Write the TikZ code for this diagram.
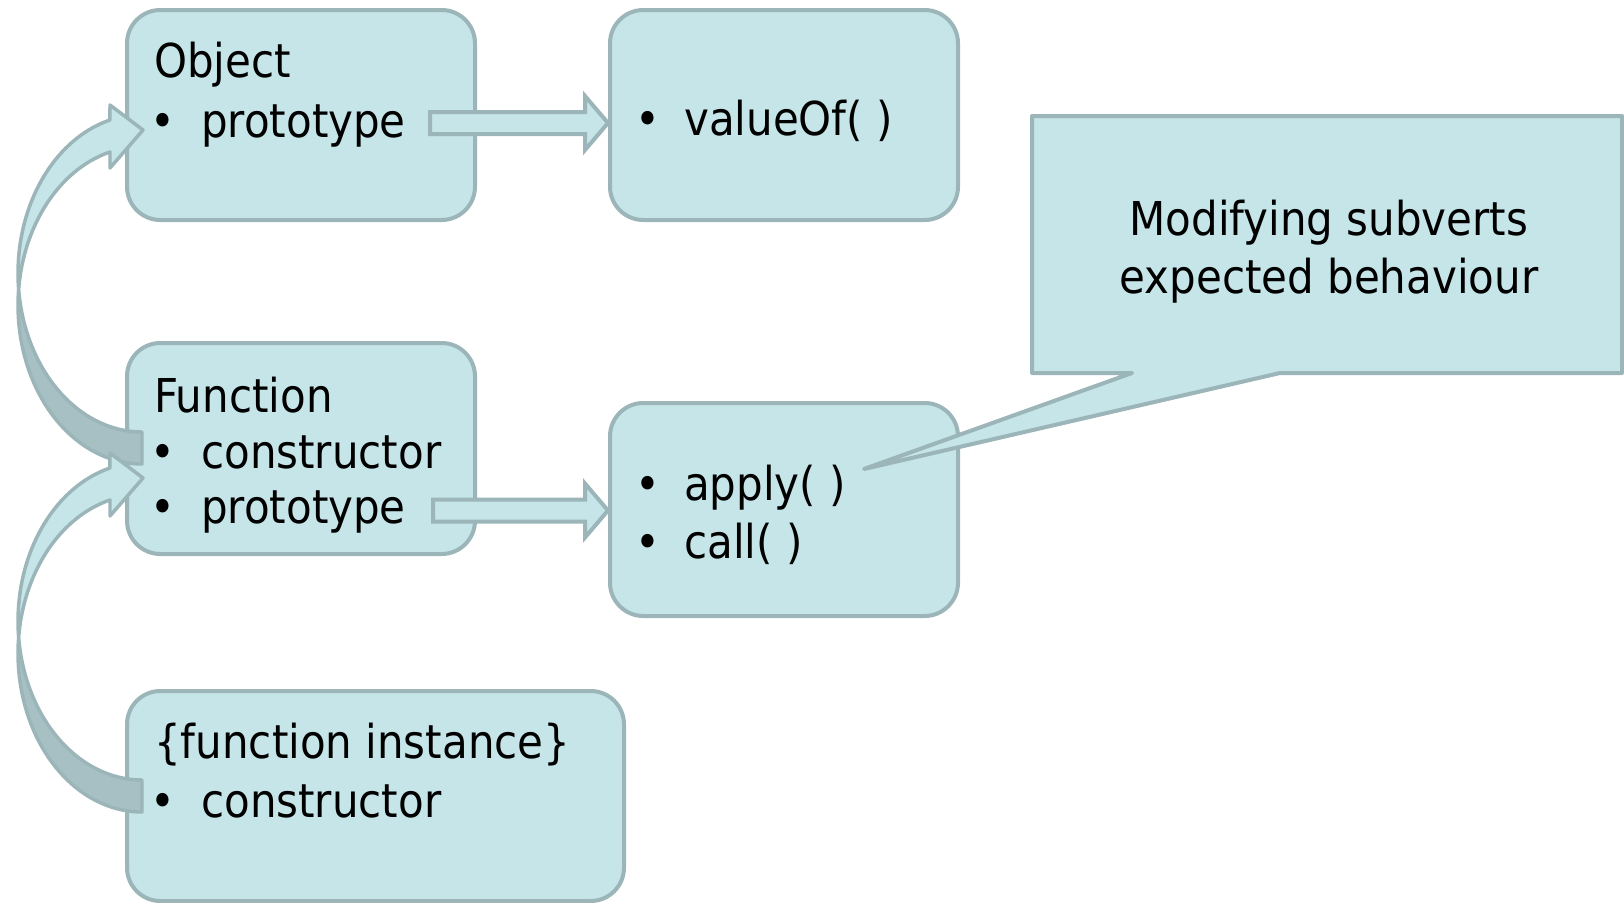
\documentclass[tikz,border=0pt]{standalone}
\usepackage{fontspec}
\setmainfont{DejaVu Sans Condensed}
\usetikzlibrary{calc}
\definecolor{boxfill}{RGB}{197,229,232}
\definecolor{boxline}{RGB}{155,181,185}
\definecolor{backfill}{RGB}{167,192,196}
\newcommand\myblockarrow[2]{\draw[blockarrow] ($(#1)+(0,-11)$) -- ($(#2)+(-23,-11)$) -- ($(#2)+(-23,-27)$) -- (#2) -- ($(#2)+(-23,27)$) -- ($(#2)+(-23,11)$) -- ($(#1)+(0,11)$) -- cycle;}
\newcommand\mycurvedarrow{%
  \draw[curveback] plot[domain=174.2:90, samples=40] ({142+124*cos(\x)},{273.3+158.7*sin(\x)}) -- (142,463)
     -- plot[domain=90:185.8, samples=40] ({142+124*cos(\x)},{305.3+158.7*sin(\x)}) -- cycle;
  \draw[curvefront] (110,152) -- plot[domain=255:185.8, samples=40] ({142+124*cos(\x)},{305.3+158.7*sin(\x)})
     -- plot[domain=174.2:255, samples=40] ({142+124*cos(\x)},{273.3+158.7*sin(\x)})
     -- (110,105) -- (143,130) -- (110,168) -- cycle;}
\begin{document}
\begin{tikzpicture}[x=0.75pt,y=-0.75pt,
  box/.style={draw=boxline, fill=boxfill, line width=3pt, rounded corners=25pt, inner sep=0pt},
  txt/.style={inner sep=0pt, font=\fontsize{35}{42}\selectfont, anchor=base west},
  bul/.style={inner sep=0pt, font=\fontsize{35}{42}\selectfont, anchor=base},
  ctxt/.style={inner sep=0pt, font=\fontsize{35}{42}\selectfont, anchor=base},
  blockarrow/.style={draw=boxline, fill=boxfill, line width=3pt, line join=miter},
  curvefront/.style={draw=boxline, fill=boxfill, line width=2.6pt, line join=round},
  curveback/.style={draw=boxline, fill=backfill, line width=2.6pt, line join=round},
  calloutbox/.style={draw=boxline, fill=boxfill, line width=3pt, line join=round}]
\useasboundingbox (0,0) rectangle (1624,903);

% boxes
\node[box, minimum width=261pt, minimum height=157.5pt] (obj) at (301,115) {};
\node[box, minimum width=261pt, minimum height=157.5pt] (val) at (784,115) {};
\node[box, minimum width=261pt, minimum height=158.25pt] (fun) at (301,448.5) {};
\node[box, minimum width=261pt, minimum height=159.75pt] (app) at (784,509.5) {};
\node[box, minimum width=372.75pt, minimum height=157.5pt] (inst) at (375.5,796) {};

% texts
\node[txt] (objT) at (154,77) {Object};
\node[bul] (objB1) at (163,137) {•};
\node[txt] (objI1) at (201,137) {prototype};

\node[bul] (valB1) at (648,135) {•};
\node[txt] (valI1) at (684,135) {valueOf( )};

\node[txt] (funT) at (154,412) {Function};
\node[bul] (funB1) at (163,468) {•};
\node[txt] (funI1) at (201,468) {constructor};
\node[bul] (funB2) at (163,523) {•};
\node[txt] (funI2) at (201,523) {prototype};

\node[bul] (appB1) at (648,500) {•};
\node[txt] (appI1) at (684,500) {apply( )};
\node[bul] (appB2) at (648,558) {•};
\node[txt] (appI2) at (684,558) {call( )};

\node[txt] (instT) at (154,758) {\{function instance\}};
\node[bul] (instB1) at (163,817) {•};
\node[txt] (instI1) at (201,817) {constructor};

% block arrows
\coordinate (a1s) at ($(obj.east)+(-47,8)$);
\coordinate (a1t) at (val.west |- a1s);
\myblockarrow{a1s}{a1t}
\coordinate (a2s) at ($(fun.east)+(-44,62)$);
\coordinate (a2t) at (app.west |- a2s);
\myblockarrow{a2s}{a2t}

% curved arrows
\mycurvedarrow
\begin{scope}[shift={(0,348)}]
\mycurvedarrow
\end{scope}

% callout
\coordinate (calltip) at (864,469);
\draw[calloutbox] (1032,116) -- (1622,116) -- (1622,373) -- (1280,373) -- (calltip) -- (1132,373) -- (1032,373) -- cycle;
\node[ctxt] (callT1) at (1329,235) {Modifying subverts};
\node[ctxt] (callT2) at (1329,293) {expected behaviour};
\end{tikzpicture}
\end{document}
